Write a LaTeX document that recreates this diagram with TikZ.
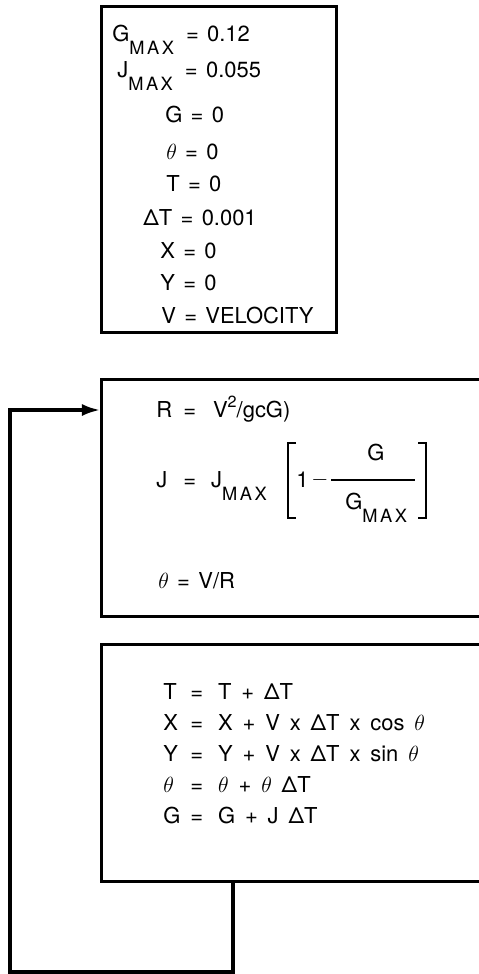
\documentclass[tikz,border=0pt]{standalone}
\usepackage{fix-cm}
\usepackage{amsmath}
\usepackage{fontspec}
\setmainfont{TeX Gyre Heros}
\usetikzlibrary{arrows.meta,calc,positioning}
\newcommand{\eqfont}{\fontsize{15.6}{18}\selectfont}
\newcommand{\mx}{\raisebox{-9.5pt}{\fontsize{13}{14}\selectfont M\kern1.8pt A\kern1.8pt X}}
\newcommand{\sq}{\raisebox{6.5pt}{\fontsize{11.5}{12}\selectfont 2}}
\newcommand{\lhs}[1]{\makebox[0.675cm][l]{#1}}
\tikzset{
  every picture/.style={line join=miter, >={Latex[length=0.45cm,width=0.3cm]}},
  every node/.style={font=\eqfont, inner sep=0pt},
  % Kästen
  panel/.style={draw, line width=2pt, rectangle, anchor=north west, inner sep=0pt},
  % Zeilen
  eq/.style={anchor=base west, execute at begin node={\spaceskip=0.38em\relax}},
  upd/.style={eq, execute at begin node={\spaceskip=0.45em\relax}},
  % Klammern und Bruchstrich
  brk/.style={line width=1.8pt},
  bar/.style={line width=1pt},
  % Rückführung
  feed/.style={line width=2.2pt, ->},
}
\begin{document}
\begin{tikzpicture}[x=0.025cm, y=-0.025cm]
  \useasboundingbox (0,0) rectangle (479,974);
  % Anfangswerte
  \node[panel, minimum width=5.875cm, minimum height=8.15cm] (init) at (100,5) {};
  \node[eq] (gmax) at (112,41) {G\mx\hspace{0.3cm}= 0.12};
  \node[eq] (jmax) at (117,77) {J\mx\hspace{0.3cm}= 0.055};
  \node[eq] (g0) at (165,122) {G = 0};
  \node[eq] (th0) at (166,159) {$\theta$ = 0};
  \node[eq] (t0) at (166,191) {T = 0};
  \node[eq] (dt0) at (143,225) {ΔT = 0.001};
  \node[eq] (x0) at (160,258) {X = 0};
  \node[eq] (y0) at (160,290) {Y = 0};
  \node[eq] (v0) at (161,323) {V = VELOCITY};
  % Kurvenradius und Ruck
  \node[panel, minimum width=10cm, minimum height=5.925cm] (curve) at (100,378) {};
  \node[eq] (rr) at (156,417) {\lhs{R}=\hspace{0.425cm}V\sq/gcG)};
  \node[eq] (jj) at (156,487) {\lhs{J}=\hspace{0.375cm}J\mx};
  \node[eq] (one) at (296,487) {1};
  \node (minus) at (320,480) {$-$};
  \node[eq] (num) at (367,460) {G};
  \node[eq] (den) at (345,509) {G\mx};
  \draw[bar] (331,480) -- (415,480);
  \draw[brk] (296,443) -- (288,443) -- (288,518) -- (296,518);
  \draw[brk] (418,443) -- (426,443) -- (426,518) -- (418,518);
  \node[eq] (thr) at (158,588) {$\theta$ = V/R};
  % Integrationsschritt
  \node[panel, minimum width=10cm, minimum height=5.925cm] (update) at (100,643) {};
  \node[upd] (tt) at (163,699) {\lhs{T}=\hspace{0.375cm}T + ΔT};
  \node[upd] (xx) at (163,730) {\lhs{X}=\hspace{0.375cm}X + V x ΔT x cos $\theta$};
  \node[upd] (yy) at (163,761) {\lhs{Y}=\hspace{0.375cm}Y + V x ΔT x sin $\theta$};
  \node[upd] (thth) at (163,792) {\lhs{$\theta$}=\hspace{0.375cm}$\theta$ + $\theta$ ΔT};
  \node[upd] (gg) at (163,823) {\lhs{G}=\hspace{0.375cm}G + J ΔT};
  % Schleife zurück
  \coordinate (low) at (233,972);
  \coordinate (turn) at (10,410);
  \draw[feed] (low |- update.south) -- (low) -| (turn) -- (turn -| curve.west);
\end{tikzpicture}
\end{document}
